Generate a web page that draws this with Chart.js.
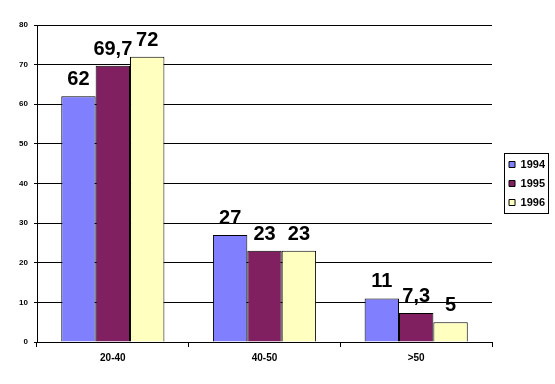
<!DOCTYPE html>
<html>
<head>
<meta charset="utf-8">
<script src="https://cdn.jsdelivr.net/npm/chart.js@4"></script>
<style>
  html, body { margin: 0; padding: 0; background: #fff; }
  #wrap { width: 555px; height: 384px; }
</style>
</head>
<body>
<div id="wrap"><canvas id="chart" width="555" height="384"></canvas></div>
<script>
// Daten aus dem Diagramm
const categories = ['20-40', '40-50', '>50'];
const years = ['1994', '1995', '1996'];
const values1994 = [62, 27, 11];
const values1995 = [69.7, 23, 7.3];
const values1996 = [72, 23, 5];
const yTicks = [0, 10, 20, 30, 40, 50, 60, 70, 80];

const colors = ['#8080ff', '#802060', '#ffffc0'];
const font = "'Liberation Sans', Arial, sans-serif";

// Werte über den Balken (mit Komma)
const valueLabels = {
  id: 'valueLabels',
  afterDatasetsDraw(chart) {
    const ctx = chart.ctx;
    ctx.save();
    ctx.font = 'bold 20px ' + font;
    ctx.fillStyle = '#000';
    ctx.textAlign = 'center';
    ctx.textBaseline = 'alphabetic';
    chart.data.datasets.forEach(function(ds, i) {
      chart.getDatasetMeta(i).data.forEach(function(bar, j) {
        const txt = String(ds.data[j]).replace('.', ',');
        ctx.fillText(txt, bar.x, bar.y - 11);
      });
    });
    ctx.restore();
  }
};

// Legende etwas nach rechts schieben und einrahmen
const legendBox = {
  id: 'legendBox',
  afterLayout(chart) {
    const lg = chart.legend;
    const dx = chart.chartArea.right + 9 - lg.left;
    lg.left += dx;
    lg.right += dx;
  },
  afterDraw(chart) {
    const boxes = chart.legend.legendHitBoxes;
    if (!boxes || !boxes.length) return;
    let l = Infinity, t = Infinity, r = -Infinity, b = -Infinity;
    boxes.forEach(function(h) {
      l = Math.min(l, h.left); t = Math.min(t, h.top);
      r = Math.max(r, h.left + h.width); b = Math.max(b, h.top + h.height);
    });
    const ctx = chart.ctx;
    ctx.save();
    ctx.strokeStyle = '#000';
    ctx.lineWidth = 1;
    ctx.strokeRect(Math.round(l - 5) + 0.5, Math.round(t - 6) + 0.5, Math.round(r - l + 8), Math.round(b - t + 11));
    ctx.restore();
  }
};

new Chart(document.getElementById('chart'), {
  type: 'bar',
  data: {
    labels: categories,
    datasets: [
      { label: years[0], data: values1994, backgroundColor: colors[0], borderColor: '#000', borderWidth: 1 },
      { label: years[1], data: values1995, backgroundColor: colors[1], borderColor: '#000', borderWidth: 1 },
      { label: years[2], data: values1996, backgroundColor: colors[2], borderColor: '#000', borderWidth: 1 }
    ]
  },
  options: {
    responsive: false,
    animation: false,
    events: [],
    layout: { padding: { top: 25, right: 9, bottom: 0, left: 0 } },
    datasets: {
      bar: { categoryPercentage: 0.68, barPercentage: 1.0 }
    },
    scales: {
      x: {
        grid: { display: true, offset: true, drawOnChartArea: false, color: '#000', tickLength: 5 },
        border: { color: '#000' },
        ticks: { color: '#000', font: { family: font, size: 10, weight: 'bold' }, padding: 5 },
        afterFit: function(scale) { scale.height = 42; }
      },
      y: {
        min: 0,
        max: 80,
        afterBuildTicks: function(scale) { scale.ticks = yTicks.map(v => ({ value: v })); },
        grid: { color: '#000', tickLength: 3 },
        border: { color: '#000' },
        ticks: { color: '#000', font: { family: font, size: 8, weight: 'bold' }, padding: 6 },
        afterFit: function(scale) { scale.width = 37; }
      }
    },
    plugins: {
      legend: {
        position: 'right',
        fullSize: false,
        labels: {
          color: '#000',
          boxWidth: 6,
          boxHeight: 6,
          padding: 8,
          font: { family: font, size: 11, weight: 'bold' }
        }
      },
      tooltip: { enabled: false }
    }
  },
  plugins: [valueLabels, legendBox]
});
</script>
</body>
</html>
